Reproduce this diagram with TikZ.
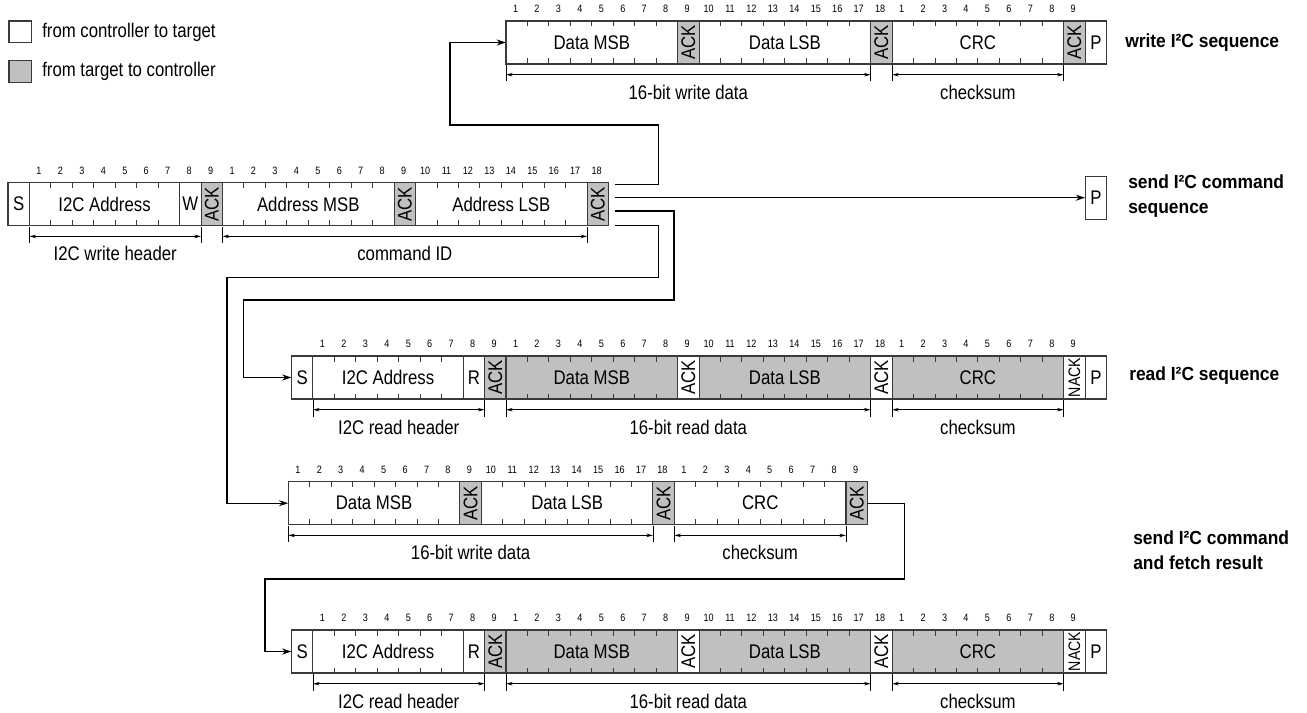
\documentclass[tikz,border=0pt]{standalone}
\usepackage{fontspec}
\setmainfont{Liberation Sans}[FakeStretch=0.85]
\newfontfamily\lblfont{Liberation Sans}[FakeStretch=0.92]
\usetikzlibrary{arrows.meta,calc}
\definecolor{tg}{HTML}{C0C0C0}
\definecolor{ln}{HTML}{3A3A3A}
\newcommand\uw{16.0875pt}
\tikzset{
 fld/.style={draw=ln, line width=0.8pt, fill=white, minimum height=32.25pt, inner sep=0pt, outer sep=0pt, anchor=north west, font=\fontsize{14.8}{16}\selectfont},
 tgf/.style={fill=tg},
 tickln/.style={draw=ln, line width=0.7pt},
 num/.style={font=\fontsize{8}{9}\selectfont, inner sep=0pt},
 conn/.style={draw=black, line width=0.9pt, -{Stealth[length=7pt,width=4.5pt]}},
 dimar/.style={line width=0.6pt, {Stealth[length=5pt,width=2.6pt]}-{Stealth[length=5pt,width=2.6pt]}},
 dimtk/.style={line width=0.6pt},
 dimtxt/.style={font=\fontsize{14.8}{16}\selectfont, yshift=-13pt, inner sep=0pt},
 seqlbl/.style={font=\lblfont\bfseries\fontsize{14.2}{18.75}\selectfont, anchor=west, align=left, inner sep=0pt},
 legbox/.style={draw=ln, line width=0.8pt, minimum width=17pt, minimum height=16.25pt, inner sep=0pt, outer sep=0pt, anchor=north west},
 legtxt/.style={font=\fontsize{14.8}{16}\selectfont, anchor=west, inner sep=0pt},
}
\newcommand\fld[6]{\node[fld,#5,minimum width=#4*\uw] (#1) at (#2,#3) {#6};}
\newcommand\tks[2]{%
 \pgfmathtruncatemacro\nm{#2-1}%
 \foreach \i in {1,...,\nm}{%
  \draw[tickln] ($(#1.north west)!\i/#2!(#1.north east)$) -- ++(0,5.5);
  \draw[tickln] ($(#1.south west)!\i/#2!(#1.south east)$) -- ++(0,-5.5);
 }}
\newcommand\nums[4]{% prefix, x0, y, list
 \foreach \n [count=\k from 0] in {#4} \node[num] (#1\k) at ({#2+(\k+0.5)*21.45-1.2},#3) {\n};}
\newcommand\dimln[3]{%
 \draw[dimtk] (#1) ++(0,1) -- ++(0,16.5);
 \draw[dimtk] (#2) ++(0,1) -- ++(0,16.5);
 \draw[dimar] ($(#1)+(0,10.7)$) -- node[dimtxt]{#3} ($(#2)+(0,10.7)$);}
\newcommand\ack{\rotatebox{90}{ACK}}
\newcommand\nack{{\fontsize{12.5}{13}\selectfont\rotatebox{90}{NACK}}}
\begin{document}
\begin{tikzpicture}[x=0.75pt,y=-0.75pt]
\useasboundingbox (0,0) rectangle (1307,713);

% legend
\node[legbox,fill=white] (lg1) at (9,21) {};
\node[legtxt] (lt1) at (42,32) {from controller to target};
\node[legbox,fill=tg] (lg2) at (9,60.7) {};
\node[legtxt] (lt2) at (42,71) {from target to controller};

% ---------- row 1: write sequence
\fld{r1msb}{506}{21}{8}{}{Data MSB}
\fld{r1ak1}{677.6}{21}{1}{tgf}{\ack}
\fld{r1lsb}{699.05}{21}{8}{}{Data LSB}
\fld{r1ak2}{870.65}{21}{1}{tgf}{\ack}
\fld{r1crc}{892.1}{21}{8}{}{CRC}
\fld{r1ak3}{1063.7}{21}{1}{tgf}{\ack}
\fld{r1p}{1085.15}{21}{1}{}{P}
\tks{r1msb}{8}\tks{r1lsb}{8}\tks{r1crc}{8}
\nums{r1n}{506}{9}{1,2,...,18,1,2,...,9}
\dimln{r1msb.south west}{r1lsb.south east}{16-bit write data}
\dimln{r1crc.south west}{r1crc.south east}{checksum}
\node[seqlbl] (t1) at (1125,43) {write I²C sequence};

% ---------- row 2: command
\fld{r2s}{8}{182.7}{1}{}{S}
\fld{r2ad}{29.45}{182.7}{7}{}{I2C Address}
\fld{r2w}{179.6}{182.7}{1}{}{W}
\fld{r2ak1}{201.05}{182.7}{1}{tgf}{\ack}
\fld{r2msb}{222.5}{182.7}{8}{}{Address MSB}
\fld{r2ak2}{394.1}{182.7}{1}{tgf}{\ack}
\fld{r2lsb}{415.55}{182.7}{8}{}{Address LSB}
\fld{r2ak3}{587.15}{182.7}{1}{tgf}{\ack}
\tks{r2ad}{7}\tks{r2msb}{8}\tks{r2lsb}{8}
\nums{r2n}{29.45}{170.7}{1,2,...,9,1,2,...,18}
\dimln{r2ad.south west}{r2ak1.south west}{I2C write header}
\dimln{r2msb.south west}{r2lsb.south east}{command ID}

\fld{r2p}{1085.15}{176.2}{1}{}{P}
\node[seqlbl] (t2) at (1128,195.7) {send I²C command\\sequence};

% ---------- row 3: read sequence
\fld{r3s}{291.5}{356}{1}{}{S}
\fld{r3ad}{312.95}{356}{7}{}{I2C Address}
\fld{r3r}{463.1}{356}{1}{}{R}
\fld{r3ak1}{484.55}{356}{1}{tgf}{\ack}
\fld{r3msb}{506}{356}{8}{tgf}{Data MSB}
\fld{r3ak2}{677.6}{356}{1}{}{\ack}
\fld{r3lsb}{699.05}{356}{8}{tgf}{Data LSB}
\fld{r3ak3}{870.65}{356}{1}{}{\ack}
\fld{r3crc}{892.1}{356}{8}{tgf}{CRC}
\fld{r3nk}{1063.7}{356}{1}{}{\nack}
\fld{r3p}{1085.15}{356}{1}{}{P}
\tks{r3ad}{7}\tks{r3msb}{8}\tks{r3lsb}{8}\tks{r3crc}{8}
\nums{r3n}{312.95}{344}{1,2,...,9,1,2,...,18,1,2,...,9}
\dimln{r3ad.south west}{r3ak1.south west}{I2C read header}
\dimln{r3msb.south west}{r3lsb.south east}{16-bit read data}
\dimln{r3crc.south west}{r3crc.south east}{checksum}
\node[seqlbl] (t3) at (1129,376) {read I²C sequence};

% ---------- row 4: write data
\fld{r4msb}{288.3}{481.7}{8}{}{Data MSB}
\fld{r4ak1}{459.9}{481.7}{1}{tgf}{\ack}
\fld{r4lsb}{481.35}{481.7}{8}{}{Data LSB}
\fld{r4ak2}{652.95}{481.7}{1}{tgf}{\ack}
\fld{r4crc}{674.4}{481.7}{8}{}{CRC}
\fld{r4ak3}{846}{481.7}{1}{tgf}{\ack}
\tks{r4msb}{8}\tks{r4lsb}{8}\tks{r4crc}{8}
\nums{r4n}{288.3}{469.7}{1,2,...,18,1,2,...,9}
\dimln{r4msb.south west}{r4lsb.south east}{16-bit write data}
\dimln{r4crc.south west}{r4crc.south east}{checksum}
\node[seqlbl] (t4) at (1133,550.5) {send I²C command\\and fetch result};

% ---------- row 5: read result
\fld{r5s}{291.5}{630}{1}{}{S}
\fld{r5ad}{312.95}{630}{7}{}{I2C Address}
\fld{r5r}{463.1}{630}{1}{}{R}
\fld{r5ak1}{484.55}{630}{1}{tgf}{\ack}
\fld{r5msb}{506}{630}{8}{tgf}{Data MSB}
\fld{r5ak2}{677.6}{630}{1}{}{\ack}
\fld{r5lsb}{699.05}{630}{8}{tgf}{Data LSB}
\fld{r5ak3}{870.65}{630}{1}{}{\ack}
\fld{r5crc}{892.1}{630}{8}{tgf}{CRC}
\fld{r5nk}{1063.7}{630}{1}{}{\nack}
\fld{r5p}{1085.15}{630}{1}{}{P}
\tks{r5ad}{7}\tks{r5msb}{8}\tks{r5lsb}{8}\tks{r5crc}{8}
\nums{r5n}{312.95}{618}{1,2,...,9,1,2,...,18,1,2,...,9}
\dimln{r5ad.south west}{r5ak1.south west}{I2C read header}
\dimln{r5msb.south west}{r5lsb.south east}{16-bit read data}
\dimln{r5crc.south west}{r5crc.south east}{checksum}

% ---------- connectors
\coordinate (o1) at (615,184.3);
\coordinate (o2) at (615,197.7);
\coordinate (o3) at (615,211);
\coordinate (o4) at (615,225.7);
\draw[conn] (o1) -| (658.3,125) -| (450,42.5) -- (r1msb.west);
\draw[conn] (o2) -- (r2p.west);
\draw[conn] (o3) -| (674,300) -| (243.3,377.5) -- (r3s.west);
\draw[conn] (o4) -| (658.3,277.3) -| (227,503.2) -- (r4msb.west);
\draw[conn] (r4ak3.east) -| (904.4,579) -| (265,651.5) -- (r5s.west);
\end{tikzpicture}
\end{document}
